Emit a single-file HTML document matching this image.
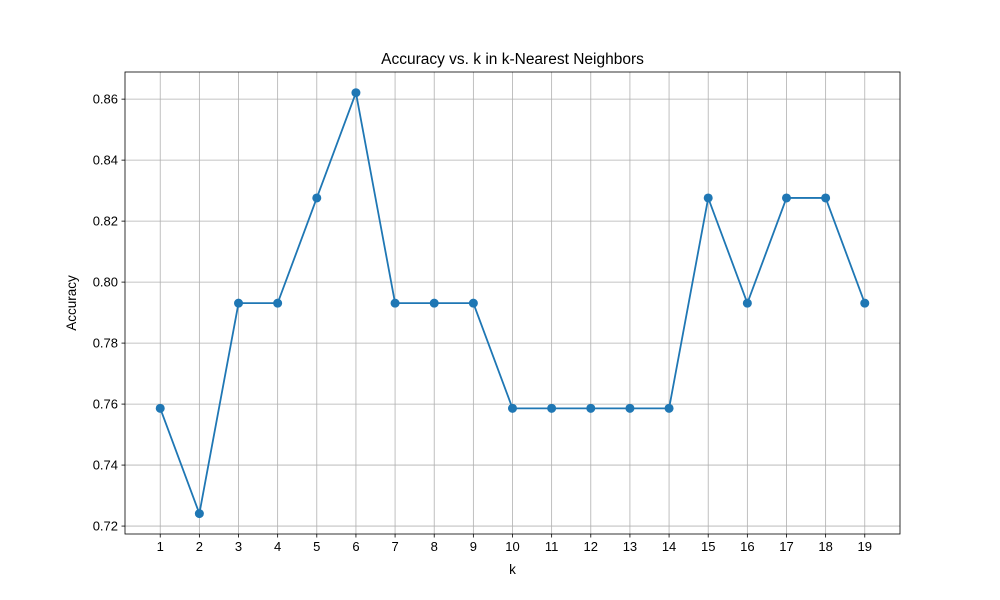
<!DOCTYPE html>
<html><head><meta charset="utf-8"><style>body{margin:0;background:#fff}svg{display:block;font-family:"Liberation Sans","DejaVu Sans",sans-serif}</style></head>
<body>
<svg id="c" width="1000" height="600"></svg>
<script>
const kValues=[1,2,3,4,5,6,7,8,9,10,11,12,13,14,15,16,17,18,19];
const accuracy=[0.7586,0.7241,0.7931,0.7931,0.8276,0.8621,0.7931,0.7931,0.7931,0.7586,0.7586,0.7586,0.7586,0.7586,0.8276,0.7931,0.8276,0.8276,0.7931];
const yTicks=[0.72,0.74,0.76,0.78,0.80,0.82,0.84,0.86];
const L=125,R=900,T=72,B=534;
const xmin=0.1,xmax=19.9,ymin=0.7174,ymax=0.8689;
const X=v=>L+(v-xmin)/(xmax-xmin)*(R-L);
const Y=v=>B-(v-ymin)/(ymax-ymin)*(B-T);
const svg=document.getElementById('c');const NS='http://www.w3.org/2000/svg';
function mk(t,a,p){const e=document.createElementNS(NS,t);for(const k in a)e.setAttribute(k,a[k]);(p||svg).appendChild(e);return e;}
let e;
for(const k of kValues){const x=X(k);
e=mk('line',{x1:x,x2:x,y1:T,y2:B,stroke:'#b0b0b0','stroke-width':0.8});


e=mk('line',{x1:x,x2:x,y1:B,y2:B+3.5,stroke:'#000','stroke-width':0.8});


e=mk('text',{x:x,y:B+17,'text-anchor':'middle','font-size':13});e.textContent=k;

}
for(const v of yTicks){const y=Y(v);
e=mk('line',{x1:L,x2:R,y1:y,y2:y,stroke:'#b0b0b0','stroke-width':0.8});


e=mk('line',{x1:L-3.5,x2:L,y1:y,y2:y,stroke:'#000','stroke-width':0.8});


e=mk('text',{x:L-7,y:y+4.5,'text-anchor':'end','font-size':13});e.textContent=v.toFixed(2);

}
e=mk('polyline',{points:kValues.map((k,i)=>X(k)+','+Y(accuracy[i])).join(' '),fill:'none',stroke:'#1f77b4','stroke-width':1.8});


kValues.forEach((k,i)=>{e=mk('circle',{cx:X(k),cy:Y(accuracy[i]),r:4.5,fill:'#1f77b4'});

});
e=mk('rect',{x:L,y:T,width:R-L,height:B-T,fill:'none',stroke:'#000','stroke-width':0.8});


e=mk('text',{x:(L+R)/2,y:64,'text-anchor':'middle','font-size':15.5});e.textContent='Accuracy vs. k in k-Nearest Neighbors';


e=mk('text',{x:(L+R)/2,y:574,'text-anchor':'middle','font-size':13.5});e.textContent='k';


e=mk('text',{x:0,y:0,'text-anchor':'middle','font-size':13.5,transform:'translate(76,303) rotate(-90)'});e.textContent='Accuracy';


</script>
</body></html>
